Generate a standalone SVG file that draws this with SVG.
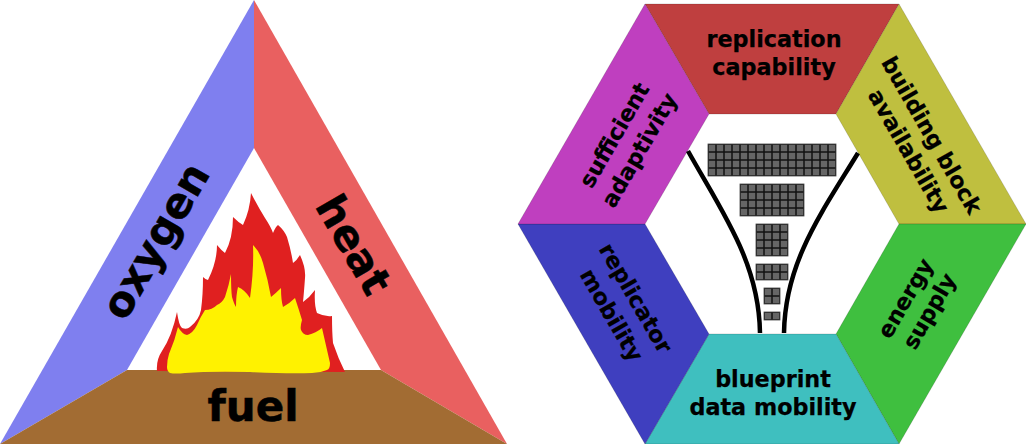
<svg xmlns="http://www.w3.org/2000/svg" width="1026" height="444" viewBox="0 0 1026 444">
<style>
text{font-family:"DejaVu Sans",sans-serif;font-weight:700;fill:#000;text-anchor:middle}
.big{font-size:42px;stroke:#000;stroke-width:.5}
.lab{font-size:22.3px;stroke:#000;stroke-width:.25}
.edge{stroke:#000;stroke-opacity:.3;stroke-width:.5}
.curve{fill:none;stroke:#000;stroke-width:4.5}
</style>
<defs>
<pattern id="cell" width="8" height="8" patternUnits="userSpaceOnUse" x="708" y="144">
<rect width="8" height="8" fill="#666" stroke="#111" stroke-width="1.5"/>
</pattern>
</defs>
<rect width="1026" height="444" fill="#fff"/>
<g id="oxygen">
<polygon points="254,0 0,444 127,370 254,148" fill="#7f7fef"/>
<text class="big" transform="translate(168,248) rotate(-60)">oxygen</text>
</g>
<g id="heat">
<polygon points="254,0 507,444 381,370 254,148" fill="#e96060"/>
<text class="big" transform="translate(341,252) rotate(60)">heat</text>
</g>
<g id="fuel">
<polygon points="0,444 507,444 381,370 127,370" fill="#a26c33"/>
<text class="big" x="253" y="421">fuel</text>
</g>
<g id="flame">
<path fill="#e02020" d="M157,371Q156,360 162,351Q172,336 177,312Q179,326 182,328Q187,330 190,327Q199,320 201,310Q203,295 203,277Q206,280 208,280Q217,262 217,245Q221,250 225,253Q233,238 233,217Q238,222 243,225Q250,210 251,193Q258,207 265,218Q271,227 273,233Q276,226 278,225Q284,230 287,237Q291,250 293,263Q297,260 300,255Q306,268 305,278Q304,292 303,302Q310,297 315,290Q314,305 317,313Q325,317 332,316Q332,332 333,343Q338,358 345,372Z"/>
<path fill="#fff200" d="M167,367Q167,360 169,354Q175,340 178,327Q182,334 187,335Q193,333 197,325Q201,316 205,310Q212,310 217,305Q222,303 225,297Q229,285 231,274Q231,290 232,297Q234,304 236,307Q236,295 238,287Q245,290 250,298Q254,270 253,245Q260,252 263,263Q268,280 271,297Q276,293 281,288Q281,300 283,307Q290,303 295,298Q299,310 302,320Q300,327 301,330Q303,335 308,335Q316,333 322,328L330,363Q330,369 327,370Q320,373 312,373Q290,374 250,372Q210,371 185,373Q175,374 170,373Q167,371 167,367Z"/>
</g>
<g id="replication-capability">
<polygon class="edge" points="645,4 899,4 836,114 709,114" fill="#bf3f3f"/>
<text class="lab" x="774" y="47">replication</text>
<text class="lab" x="774" y="75">capability</text>
</g>
<g id="building-block-availability">
<polygon class="edge" points="899,4 1026,224 899,224 836,114" fill="#bfbf3f"/>
<text class="lab" transform="translate(925,139) rotate(60)">building block</text>
<text class="lab" transform="translate(902,155) rotate(60)">availability</text>
</g>
<g id="energy-supply">
<polygon class="edge" points="1026,224 899,444 836,334 899,224" fill="#3fbf3f"/>
<text class="lab" transform="translate(912,302) rotate(-60)">energy</text>
<text class="lab" transform="translate(936,315) rotate(-60)">supply</text>
</g>
<g id="blueprint-data-mobility">
<polygon class="edge" points="899,444 645,444 709,334 836,334" fill="#3fbfbf"/>
<text class="lab" x="773" y="387">blueprint</text>
<text class="lab" x="773" y="415">data mobility</text>
</g>
<g id="replicator-mobility">
<polygon class="edge" points="645,444 518,224 645,224 709,334" fill="#3f3fbf"/>
<text class="lab" transform="translate(629,302) rotate(60)">replicator</text>
<text class="lab" transform="translate(605,319) rotate(60)">mobility</text>
</g>
<g id="sufficient-adaptivity">
<polygon class="edge" points="518,224 645,4 709,114 645,224" fill="#bf3fbf"/>
<text class="lab" transform="translate(621,139) rotate(-60)">sufficient</text>
<text class="lab" transform="translate(646,154) rotate(-60)">adaptivity</text>
</g>
<g id="connectors">
<path class="curve" d="M688,151C722,212 759,262 760,333"/>
<path class="curve" d="M858,153C822,212 785,262 784,333"/>
</g>
<g id="grids" fill="url(#cell)" stroke="#444" stroke-width=".8">
<rect x="708" y="144" width="128" height="32"/>
<rect x="740" y="184" width="64" height="32"/>
<rect x="756" y="224" width="32" height="32"/>
<rect x="756" y="264" width="32" height="16"/>
<rect x="764" y="288" width="16" height="16"/>
<rect x="764" y="312" width="16" height="8"/>
</g>
</svg>
